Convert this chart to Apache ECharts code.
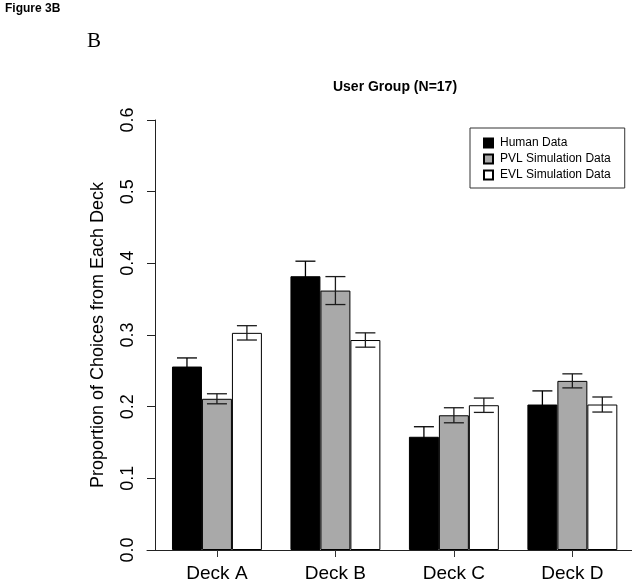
<!DOCTYPE html>
<html>
<head>
<meta charset="utf-8">
<script src="https://cdn.jsdelivr.net/npm/echarts@6/dist/echarts.min.js"></script>
<style>html,body{margin:0;padding:0;background:#fff;}#c{width:640px;height:585px;}</style>
</head>
<body>
<div id="c"></div>
<script>
var categories = ['Deck A', 'Deck B', 'Deck C', 'Deck D'];
var seriesNames = ['Human Data', 'PVL Simulation Data', 'EVL Simulation Data'];
var humanData = [0.256, 0.382, 0.158, 0.203];
var humanErr  = [0.012, 0.021, 0.014, 0.019];
var pvlData   = [0.211, 0.362, 0.188, 0.236];
var pvlErr    = [0.007, 0.0195, 0.0105, 0.0098];
var evlData   = [0.303, 0.293, 0.202, 0.203];
var evlErr    = [0.010, 0.010, 0.010, 0.0105];
var yTicks = [0, 0.1, 0.2, 0.3, 0.4, 0.5, 0.6];

var values = [humanData, pvlData, evlData];
var errs = [humanErr, pvlErr, evlErr];
var colors = ['#000000', '#a9a9a9', '#ffffff'];
var BAR_FRAC = 0.253;
var FONT = 'Liberation Sans, Arial, sans-serif';

var chart = echarts.init(document.getElementById('c'), null, {renderer: 'canvas'});

var series = [];
values.forEach(function (vals, i) {
  series.push({
    name: seriesNames[i], type: 'bar', xAxisIndex: 0, yAxisIndex: 0,
    data: vals, barWidth: (BAR_FRAC * 100) + '%', barGap: '0%',
    itemStyle: {color: colors[i], borderColor: '#000', borderWidth: 1},
    emphasis: {disabled: true}, animation: false, z: 2
  });
});
values.forEach(function (vals, i) {
  var d = vals.map(function (v, k) { return [k, v, errs[i][k]]; });
  series.push({
    type: 'custom', xAxisIndex: 0, yAxisIndex: 0, z: 5, animation: false, silent: true,
    data: d, encode: {x: 0, y: 1},
    renderItem: function (params, api) {
      var cat = api.value(0), v = api.value(1), e = api.value(2);
      var band = api.size([1, 0])[0];
      var off = (i - 1) * BAR_FRAC * band;
      var x = api.coord([cat, v])[0] + off;
      var yt = api.coord([cat, v + e])[1];
      var yb = api.coord([cat, v - e])[1];
      var cw = 10;
      var st = {stroke: i === 0 ? '#000' : '#1c1c1c', lineWidth: 1.3};
      return {type: 'group', children: [
        {type: 'line', shape: {x1: x, y1: yt, x2: x, y2: yb}, style: st},
        {type: 'line', shape: {x1: x - cw, y1: yt, x2: x + cw, y2: yt}, style: st},
        {type: 'line', shape: {x1: x - cw, y1: yb, x2: x + cw, y2: yb}, style: st}
      ]};
    }
  });
});

var option = {
  backgroundColor: '#fff',
  animation: false,
  title: [
    {text: 'Figure 3B', left: 5, top: 3, padding: 0,
     textStyle: {fontFamily: FONT, fontSize: 12, fontWeight: 'bold', color: '#000'}},
    {text: 'B', left: 87, top: 31, padding: 0,
     textStyle: {fontFamily: 'Liberation Serif, Times New Roman, serif', fontSize: 21, fontWeight: 'normal', color: '#000'}},
    {text: 'User Group (N=17)', left: 395, top: 80, padding: 0, textAlign: 'center',
     textStyle: {fontFamily: FONT, fontSize: 14, fontWeight: 'bold', color: '#000'}}
  ],
  legend: {
    data: seriesNames, orient: 'vertical', left: 470, top: 128,
    itemWidth: 9, itemHeight: 9, itemGap: 4,
    padding: [9, 14, 7, 13], borderColor: '#333', borderWidth: 1,
    textStyle: {fontFamily: FONT, fontSize: 12, color: '#000', padding: [0, 0, 0, 2]},
    icon: 'rect', selectedMode: false
  },
  grid: [
    {left: 157.7, right: 8.4, top: 120, bottom: 35},
    {left: 147, right: 8.4, top: 120, bottom: 35}
  ],
  xAxis: [
    {type: 'category', gridIndex: 0, data: categories,
     axisLine: {show: false},
     axisTick: {show: true, alignWithLabel: true, length: 7, lineStyle: {color: '#333', width: 1}},
     axisLabel: {fontFamily: FONT, fontSize: 19, color: '#000', margin: 14}},
    {type: 'value', gridIndex: 1, min: 0, max: 1,
     axisLine: {show: true, onZero: false, lineStyle: {color: '#222', width: 1}},
     axisTick: {show: false}, axisLabel: {show: false}, splitLine: {show: false}}
  ],
  yAxis: [
    {type: 'value', gridIndex: 0, min: 0, max: 0.6, interval: 0.1, offset: 2.7,
     axisLine: {show: true, lineStyle: {color: '#222', width: 1}},
     axisTick: {show: true, length: 8, lineStyle: {color: '#222'}},
     splitLine: {show: false},
     axisLabel: {fontFamily: FONT, fontSize: 18, color: '#000', rotate: 90, margin: 18,
       formatter: function (v) { return v.toFixed(1); }},
     name: 'Proportion of Choices from Each Deck', nameLocation: 'middle', nameRotate: 90,
     nameGap: 48,
     nameTextStyle: {fontFamily: FONT, fontSize: 18, color: '#000'}},
    {type: 'value', gridIndex: 1, show: false, min: 0, max: 1}
  ],
  series: series
};
chart.setOption(option);
</script>
</body>
</html>
